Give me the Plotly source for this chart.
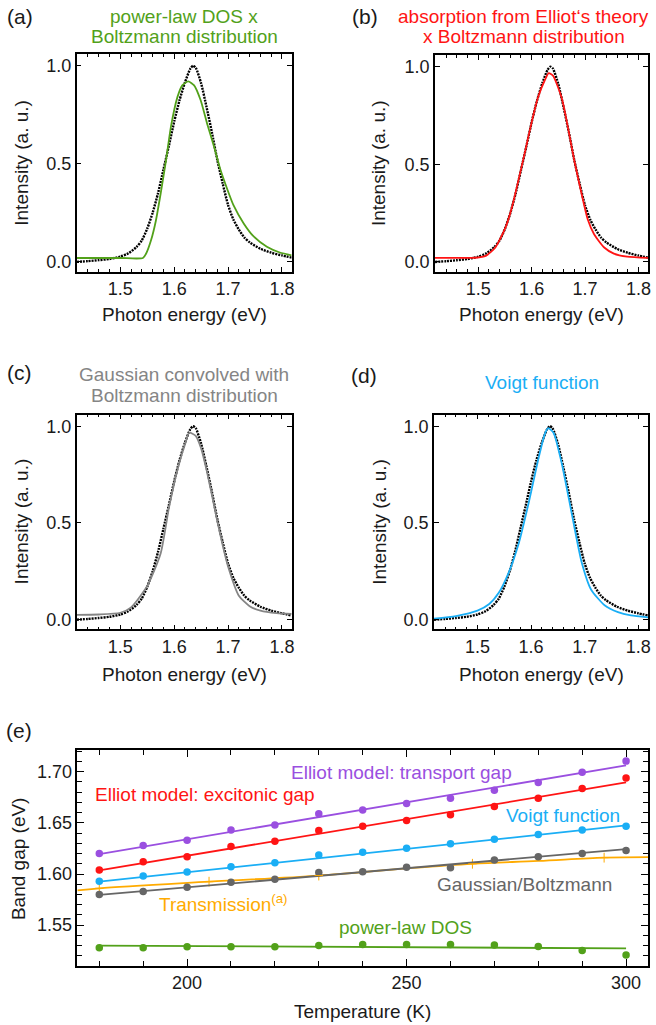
import plotly.graph_objects as go

# ---------------- data: PL spectrum (shared by panels a-d) ----------------
black_E = [1.419, 1.44, 1.46, 1.48, 1.50, 1.515, 1.53, 1.54, 1.55, 1.56, 1.57, 1.58, 1.59,
           1.60, 1.61, 1.62, 1.63, 1.635, 1.64, 1.65, 1.66, 1.67, 1.68, 1.69, 1.70, 1.71,
           1.72, 1.73, 1.74, 1.76, 1.78, 1.80, 1.818]
black_I = [0.000, 0.004, 0.009, 0.015, 0.027, 0.044, 0.076, 0.11, 0.17, 0.25, 0.35, 0.47, 0.59,
           0.715, 0.825, 0.915, 0.985, 1.0, 0.99, 0.91, 0.79, 0.66, 0.52, 0.40, 0.29, 0.215,
           0.165, 0.125, 0.10, 0.067, 0.047, 0.033, 0.022]

# (a) power-law DOS x Boltzmann
green_E = [1.419, 1.50, 1.542, 1.548, 1.557, 1.566, 1.575, 1.585, 1.594, 1.606, 1.615, 1.626,
           1.637, 1.649, 1.661, 1.674, 1.686, 1.698, 1.710, 1.729, 1.747, 1.772, 1.796, 1.818]
green_I = [0.02, 0.02, 0.02, 0.043, 0.11, 0.21, 0.35, 0.52, 0.69, 0.84, 0.90, 0.92,
           0.90, 0.825, 0.706, 0.587, 0.468, 0.374, 0.289, 0.196, 0.131, 0.077, 0.048, 0.034]

# (b) Elliot absorption x Boltzmann
red_E = [1.419, 1.46, 1.495, 1.514, 1.532, 1.551, 1.563, 1.575, 1.588, 1.600, 1.612, 1.625,
         1.632, 1.640, 1.656, 1.668, 1.680, 1.693, 1.705, 1.717, 1.736, 1.754, 1.779, 1.818]
red_I = [0.0205, 0.0205, 0.0215, 0.031, 0.074, 0.176, 0.279, 0.415, 0.569, 0.715, 0.843, 0.933,
         0.967, 0.954, 0.843, 0.689, 0.518, 0.356, 0.219, 0.142, 0.074, 0.043, 0.027, 0.0205]

# (c) Gaussian convolved with Boltzmann
gray_E = [1.419, 1.46, 1.50, 1.52, 1.55, 1.575, 1.59, 1.60, 1.61, 1.62, 1.628, 1.64, 1.65,
          1.66, 1.67, 1.68, 1.69, 1.70, 1.72, 1.74, 1.76, 1.79, 1.818]
gray_I = [0.025, 0.027, 0.036, 0.064, 0.175, 0.344, 0.575, 0.705, 0.815, 0.905, 0.966, 0.95,
          0.885, 0.775, 0.645, 0.51, 0.385, 0.275, 0.124, 0.07, 0.047, 0.034, 0.030]

# (d) Voigt function
blue_E = [1.419, 1.46, 1.50, 1.522, 1.54, 1.558, 1.577, 1.595, 1.614, 1.626, 1.632, 1.642,
          1.657, 1.675, 1.694, 1.712, 1.737, 1.762, 1.786, 1.818]
blue_I = [0.005, 0.019, 0.047, 0.081, 0.14, 0.242, 0.395, 0.598, 0.836, 0.963, 0.99, 0.965,
          0.81, 0.56, 0.30, 0.155, 0.075, 0.039, 0.022, 0.012]

# ---------------- data: band gap vs temperature (panel e) ----------------
temps = [180, 190, 200, 210, 220, 230, 240, 250, 260, 270, 280, 290, 300]
gap_transport = [1.620, 1.628, 1.633, 1.643, 1.648, 1.659, 1.6625, 1.669, 1.674, 1.682, 1.6895, 1.6996, 1.7104]
gap_excitonic = [1.604, 1.612, 1.617, 1.627, 1.632, 1.6426, 1.6468, 1.6524, 1.658, 1.666, 1.674, 1.6837, 1.694]
gap_voigt = [1.593, 1.598, 1.602, 1.607, 1.611, 1.6185, 1.6214, 1.6253, 1.6296, 1.6341, 1.6387, 1.643, 1.6468]
gap_gauss = [1.580, 1.583, 1.587, 1.592, 1.595, 1.6016, 1.6022, 1.6067, 1.6061, 1.6136, 1.617, 1.620, 1.623]
gap_powerlaw = [1.528, 1.528, 1.529, 1.529, 1.529, 1.530, 1.531, 1.5312, 1.5312, 1.5305, 1.5292, 1.5253, 1.5207]

fit_T = [180, 300]
fit_transport = [1.6195, 1.7062]
fit_excitonic = [1.6035, 1.6895]
fit_voigt = [1.5925, 1.6475]
fit_gauss = [1.5795, 1.6243]
fit_powerlaw = [1.5300, 1.5273]

trans_T = [180, 205, 230, 265, 295]
trans_E = [1.586, 1.5925, 1.5985, 1.610, 1.616]
trans_curve_T = [175, 180, 205, 230, 250, 265, 280, 295, 305]
trans_curve_E = [1.584, 1.586, 1.5925, 1.5985, 1.6055, 1.610, 1.6128, 1.616, 1.6165]

# ---------------- styling ----------------
W, H = 656, 1025
FONT = "Liberation Sans, Arial, sans-serif"
INK = "#1a1a1a"
GREEN = "#52a11a"
RED = "#ff1414"
GRAY_FIT = "#858585"
GRAY_PT = "#666666"
BLUE = "#1aaef5"
PURPLE = "#9a4fe0"
ORANGE = "#ffab00"


def px(x):
    return x / W


def py(y):
    return 1 - y / H


fig = go.Figure()

panels = [
    # (x0, x1, y0, y1) in pixels
    (77, 293, 54, 272),
    (437, 651, 55, 272),
    (77, 293, 415, 630),
    (436, 651, 415, 630),
]
fits = [(green_E, green_I, GREEN), (red_E, red_I, RED), (gray_E, gray_I, GRAY_FIT), (blue_E, blue_I, BLUE)]

for i, ((x0, x1, y0, y1), (fe, fi, fc)) in enumerate(zip(panels, fits), start=1):
    xa = "x" if i == 1 else f"x{i}"
    ya = "y" if i == 1 else f"y{i}"
    fig.add_trace(go.Scatter(x=black_E, y=black_I, mode="lines", xaxis=xa, yaxis=ya,
                             line=dict(color="black", width=2.4, dash="2px,1px", shape="spline", smoothing=0.6),
                             showlegend=False, hoverinfo="skip"))
    fig.add_trace(go.Scatter(x=fe, y=fi, mode="lines", xaxis=xa, yaxis=ya,
                             line=dict(color=fc, width=1.8, shape="spline", smoothing=0.6),
                             showlegend=False, hoverinfo="skip"))
    axx = dict(domain=[px(x0), px(x1)], anchor=ya, range=[1.419, 1.818],
               tickvals=[1.5, 1.6, 1.7, 1.8], tickformat=".1f",
               ticks="inside", ticklen=5, tickwidth=1.3, tickcolor="black",
               minor=dict(dtick=0.02, tick0=1.4, ticks="inside", ticklen=3, tickwidth=1.1, tickcolor="black"),
               showline=True, linewidth=1.6, linecolor="black", mirror="allticks",
               showgrid=False, zeroline=False, tickfont=dict(size=18, color=INK, family=FONT))
    axy = dict(domain=[py(y1), py(y0)], anchor=xa, range=[-0.05, 1.06],
               tickvals=[0, 0.5, 1.0], tickformat=".1f",
               ticks="inside", ticklen=5, tickwidth=1.3, tickcolor="black",
               showline=True, linewidth=1.6, linecolor="black", mirror="allticks",
               showgrid=False, zeroline=False, tickfont=dict(size=18, color=INK, family=FONT))
    fig.layout["xaxis" if i == 1 else f"xaxis{i}"] = axx
    fig.layout["yaxis" if i == 1 else f"yaxis{i}"] = axy

# panel (e)
series = [
    (gap_transport, fit_transport, PURPLE),
    (gap_excitonic, fit_excitonic, RED),
    (gap_voigt, fit_voigt, BLUE),
    (gap_gauss, fit_gauss, GRAY_PT),
    (gap_powerlaw, fit_powerlaw, GREEN),
]
fig.add_trace(go.Scatter(x=trans_curve_T, y=trans_curve_E, mode="lines", xaxis="x5", yaxis="y5",
                         line=dict(color=ORANGE, width=1.8, shape="spline"), showlegend=False, hoverinfo="skip"))
fig.add_trace(go.Scatter(x=trans_T, y=trans_E, mode="markers", xaxis="x5", yaxis="y5",
                         marker=dict(symbol="line-ns", size=7, line=dict(color=ORANGE, width=1)),
                         showlegend=False, hoverinfo="skip"))
for vals, fit, col in series:
    fig.add_trace(go.Scatter(x=fit_T, y=fit, mode="lines", xaxis="x5", yaxis="y5",
                             line=dict(color=col, width=1.8), showlegend=False, hoverinfo="skip"))
    fig.add_trace(go.Scatter(x=temps, y=vals, mode="markers", xaxis="x5", yaxis="y5",
                             marker=dict(color=col, size=7.5), showlegend=False, hoverinfo="skip"))
fig.add_trace(go.Scatter(x=trans_T, y=trans_E, mode="markers", xaxis="x5", yaxis="y5",
                         marker=dict(symbol="line-ew", size=6, line=dict(color=ORANGE, width=1)),
                         showlegend=False, hoverinfo="skip"))

fig.layout["xaxis5"] = dict(domain=[px(77.7), px(651)], anchor="y5", range=[175, 305],
                            tickvals=[200, 250, 300], ticks="inside", ticklen=7, tickwidth=1.3, tickcolor="black",
                            minor=dict(dtick=10, tick0=0, ticks="inside", ticklen=5, tickwidth=1.1, tickcolor="black"),
                            showline=True, linewidth=1.6, linecolor="black", mirror="allticks",
                            showgrid=False, zeroline=False, tickfont=dict(size=18, color=INK, family=FONT))
fig.layout["yaxis5"] = dict(domain=[py(967), py(751)], anchor="x5", range=[1.510, 1.721],
                            tickvals=[1.55, 1.60, 1.65, 1.70], tickformat=".2f",
                            ticks="inside", ticklen=7, tickwidth=1.3, tickcolor="black",
                            minor=dict(dtick=0.01, tick0=1.5, ticks="inside", ticklen=5, tickwidth=1.1, tickcolor="black"),
                            showline=True, linewidth=1.6, linecolor="black", mirror="allticks",
                            showgrid=False, zeroline=False, tickfont=dict(size=18, color=INK, family=FONT))

ann = []


def txt(x, y, s, size=19, color=INK, angle=0, xanchor="center"):
    ann.append(dict(x=px(x), y=py(y), xref="paper", yref="paper", text=s, showarrow=False,
                    xanchor=xanchor, yanchor="middle", textangle=angle,
                    font=dict(size=size, color=color, family=FONT)))


# panel labels
txt(20, 17, "(a)", 21)
txt(367, 17, "(b)", 21)
txt(20, 373, "(c)", 21)
txt(366, 376, "(d)", 21)
txt(19, 731, "(e)", 21)
# panel titles
txt(185, 17, "power-law DOS x", color=GREEN)
txt(185, 37, "Boltzmann distribution", color=GREEN)
txt(526, 17, "absorption from Elliot‘s theory", color=RED)
txt(526, 37, "x Boltzmann distribution", color=RED)
txt(185, 375, "Gaussian convolved with", color=GRAY_FIT)
txt(185, 396, "Boltzmann distribution", color=GRAY_FIT)
txt(544, 383, "Voigt function", color=BLUE)
# axis titles
for cx, cy in [(185, 315), (544, 315), (185, 675), (544, 675)]:
    txt(cx, cy, "Photon energy (eV)")
for cx, cy in [(22, 163), (381, 163), (22, 522), (381, 522)]:
    txt(cx, cy, "Intensity (a. u.)", angle=-90)
txt(364, 1012, "Temperature (K)")
txt(18, 859, "Band gap (eV)", angle=-90)

# panel (e) series labels (data coordinates)
ann_e = [
    (248.9, 1.699, "Elliot model: transport gap", PURPLE),
    (204.1, 1.6778, "Elliot model: excitonic gap", RED),
    (285.6, 1.6573, "Voigt function", BLUE),
    (276.8, 1.5898, "Gaussian/Boltzmann", GRAY_PT),
    (249.7, 1.548, "power-law DOS", GREEN),
]
for x, y, s, c in ann_e:
    ann.append(dict(x=x, y=y, xref="x5", yref="y5", text=s, showarrow=False,
                    xanchor="center", yanchor="middle", font=dict(size=19, color=c, family=FONT)))
ann.append(dict(x=193.1, y=1.572, xref="x5", yref="y5", text="Transmission<sup>(a)</sup>", showarrow=False,
                xanchor="left", yanchor="middle", font=dict(size=19, color=ORANGE, family=FONT)))

fig.update_layout(width=W, height=H, margin=dict(l=0, r=0, t=0, b=0),
                  paper_bgcolor="white", plot_bgcolor="white",
                  font=dict(family=FONT, color=INK), annotations=ann, showlegend=False)

fig.write_html("out.html")
